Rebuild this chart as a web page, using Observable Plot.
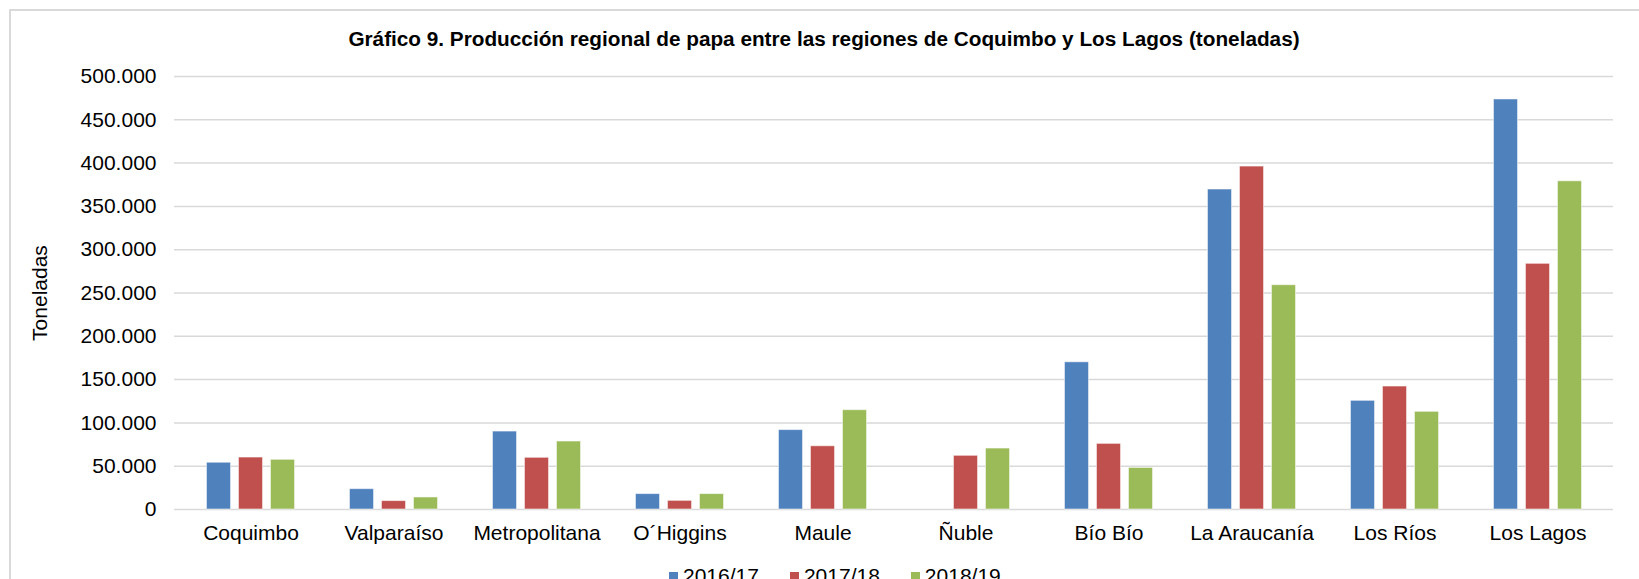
<!DOCTYPE html>
<html>
<head>
<meta charset="utf-8">
<script src="https://cdn.jsdelivr.net/npm/d3@7"></script>
<script src="https://cdn.jsdelivr.net/npm/@observablehq/plot@0.6"></script>
<style>
  html, body { margin: 0; padding: 0; background: #fff; }
  body { width: 1639px; height: 579px; overflow: hidden; position: relative; font-family: "Liberation Sans", Arial, sans-serif; }
  #frame { position: absolute; left: 9px; top: 9px; width: 1700px; height: 600px; border-left: 2px solid #d9d9d9; border-top: 2px solid #d9d9d9; }
  #title { width: 1626px; height: 39px; line-height: 39px; position: relative; top: 8px; text-align: center; font-weight: bold; font-size: 20.75px; color: #000; white-space: nowrap; }
  #chart svg { display: block; }
  #legend { display: flex; align-items: center; padding-left: 658px; margin-top: 5px; height: 24px; line-height: 24px; font-size: 21px; color: #000; }
  #legend .item { display: flex; align-items: center; margin-right: 31px; }
  #legend .sw { width: 9px; height: 9px; margin-right: 5px; }
</style>
</head>
<body>
<div id="frame">
  <div id="title">Gráfico 9. Producción regional de papa entre las regiones de Coquimbo y Los Lagos (toneladas)</div>
  <div id="chart"></div>
  <div id="legend"></div>
</div>
<script>
const regions = ["Coquimbo", "Valparaíso", "Metropolitana", "O´Higgins", "Maule", "Ñuble", "Bío Bío", "La Araucanía", "Los Ríos", "Los Lagos"];
const series = ["2016/17", "2017/18", "2018/19"];
const colors = ["#4F81BD", "#C0504D", "#9BBB59"];
const v2016 = [54000, 23500, 90000, 17800, 91700, null, 170000, 369500, 125500, 473500];
const v2017 = [60000, 9700, 59700, 10000, 73000, 62000, 75800, 396000, 142000, 283700];
const v2018 = [57400, 13900, 78500, 17800, 114700, 70400, 48000, 259000, 112800, 379000];
const yTicks = [0, 50000, 100000, 150000, 200000, 250000, 300000, 350000, 400000, 450000, 500000];

const values = [v2016, v2017, v2018];
const data = [];
series.forEach((s, i) => regions.forEach((r, j) => {
  if (values[i][j] != null) data.push({region: r, series: s, value: values[i][j]});
}));

const locale = d3.formatLocale({decimal: ",", thousands: ".", grouping: [3], currency: ["$", ""]});
const fmt = locale.format(",d");

const barW = 25, slot = 32;
const bandW = (1613 - 174) / regions.length;
const inset = (bandW - barW) / 2;

const bars = series.map((s, i) => Plot.barY(data.filter(d => d.series === s), {
  x: "region", y: "value", fill: "series",
  dx: (i - 1) * slot, insetLeft: inset, insetRight: inset,
  stroke: "#ffffff", strokeOpacity: 0.55, strokeWidth: 1
}));

const chart = Plot.plot({
  width: 1628, height: 509,
  marginLeft: 163, marginRight: 26, marginTop: 26, marginBottom: 50,
  style: {fontFamily: '"Liberation Sans", Arial, sans-serif', fontSize: "21px", color: "#000", background: "white"},
  x: {domain: regions, padding: 0, label: null},
  y: {domain: [0, 500000], label: null},
  color: {domain: series, range: colors},
  marks: [
    Plot.gridY(yTicks, {stroke: "#d9d9d9", strokeOpacity: 1, strokeWidth: 1.5}),
    Plot.axisY(yTicks, {tickSize: 0, tickPadding: 18, tickFormat: fmt, label: "Toneladas", labelAnchor: "center", labelArrow: "none", labelOffset: 142, fontSize: 21}),
    Plot.axisX({tickSize: 0, tickPadding: 16, label: null, fontSize: 21}),
    ...bars
  ]
});
document.getElementById("chart").appendChild(chart);

const legend = document.getElementById("legend");
series.forEach((s, i) => {
  const item = document.createElement("div");
  item.className = "item";
  const sw = document.createElement("span");
  sw.className = "sw";
  sw.style.background = colors[i];
  const t = document.createElement("span");
  t.textContent = s;
  item.appendChild(sw);
  item.appendChild(t);
  legend.appendChild(item);
});
</script>
</body>
</html>
